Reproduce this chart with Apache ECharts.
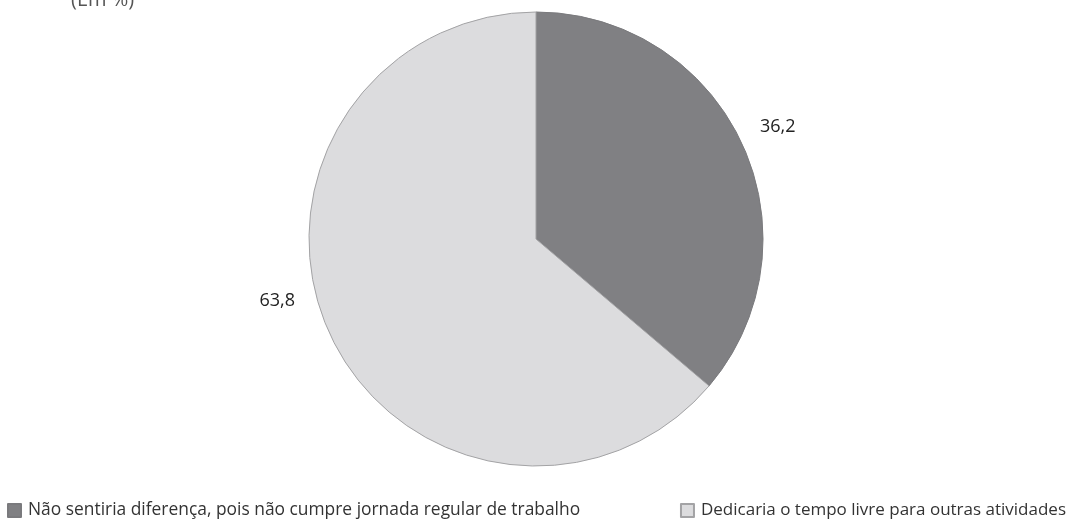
<!DOCTYPE html>
<html>
<head>
<meta charset="utf-8">
<script src="https://cdn.jsdelivr.net/npm/echarts@6/dist/echarts.min.js"></script>
<style>
html,body{margin:0;padding:0;background:#fff;}
#chart{width:1069px;height:520px;}
</style>
</head>
<body>
<div id="chart"></div>
<script>
const categories = [
  'Não sentiria diferença, pois não cumpre jornada regular de trabalho',
  'Dedicaria o tempo livre para outras atividades'
];
const values = [36.2, 63.8];
const valueLabels = ['36,2', '63,8'];
const sliceColors = ['#808083', '#dcdcde'];
const titleText = '(Em %)';

const chart = echarts.init(document.getElementById('chart'), null, {renderer: 'canvas'});
const FONT = '"Open Sans", "Noto Sans", sans-serif';

const labelSpots = [
  {x: 760, y: 127, align: 'left'},
  {x: 295, y: 301, align: 'right'}
];

chart.setOption({
  animation: false,
  backgroundColor: '#ffffff',
  title: {
    text: titleText,
    left: 71,
    top: -10,
    padding: 0,
    textStyle: {fontFamily: FONT, fontSize: 20, fontWeight: 'normal', color: '#555'}
  },
  legend: [
    {
      data: [categories[0]],
      left: 7, top: 502, padding: 0,
      itemWidth: 13, itemHeight: 13, itemGap: 0,
      icon: 'rect',
      textStyle: {fontFamily: FONT, fontSize: 17.4, color: '#333', padding: [0,0,0,2]},
      selectedMode: false
    },
    {
      data: [categories[1]],
      right: 3, top: 502, padding: 0,
      itemWidth: 13, itemHeight: 13, itemGap: 0,
      icon: 'rect',
      textStyle: {fontFamily: FONT, fontSize: 17, color: '#333', padding: [0,0,0,2]},
      selectedMode: false
    }
  ],
  series: [{
    type: 'pie',
    center: [536, 239],
    radius: 227,
    startAngle: 90,
    clockwise: true,
    avoidLabelOverlap: false,
    label: {
      show: true,
      position: 'outside',
      fontFamily: FONT,
      fontSize: 18,
      color: '#222',
      formatter: p => valueLabels[p.dataIndex]
    },
    labelLine: {show: false},
    labelLayout: p => Object.assign({verticalAlign: 'middle'}, labelSpots[p.dataIndex]),
    emphasis: {disabled: true},
    data: categories.map((c, i) => ({
      name: c,
      value: values[i],
      itemStyle: {color: sliceColors[i], borderColor: i === 0 ? '#7a7a7d' : '#a3a3a5', borderWidth: 1}
    }))
  }]
});
</script>
</body>
</html>
